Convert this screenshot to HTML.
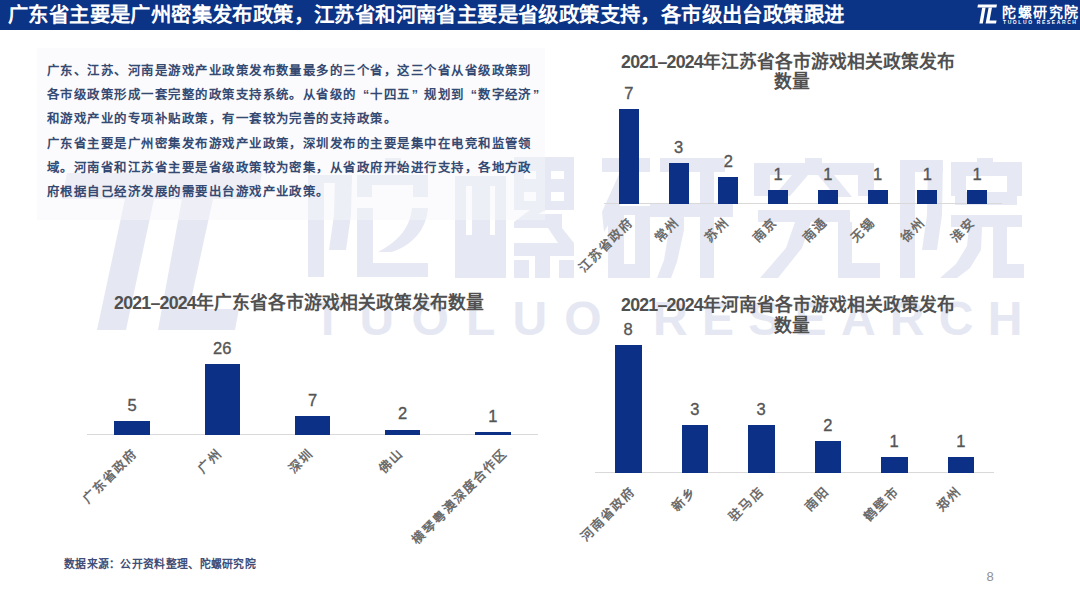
<!DOCTYPE html>
<html lang="zh-CN"><head><meta charset="utf-8">
<style>
*{margin:0;padding:0;box-sizing:border-box}
html,body{width:1080px;height:606px;overflow:hidden;background:#fff;font-family:"Liberation Sans",sans-serif}
.abs{position:absolute}
#hdr{position:absolute;left:0;top:0;width:1080px;height:30px;background:#0b3386}
#ttl{position:absolute;left:8px;top:2px;font-size:20.4px;line-height:26px;font-weight:bold;color:#fff;white-space:nowrap;letter-spacing:0.4px}
#wm{position:absolute;left:0;top:0;width:1080px;height:606px}
.wml{position:absolute;font-size:48px;font-weight:bold;color:#e5e8f2;line-height:1;white-space:nowrap}
#box{position:absolute;left:37px;top:48px;width:508px;height:172px;background:rgba(246,247,251,0.45)}
#para{position:absolute;left:47px;top:59px;font-size:12.4px;line-height:24.2px;color:#354a72;white-space:nowrap;letter-spacing:1.47px;font-weight:bold}
.ct{position:absolute;font-size:17.8px;font-weight:bold;color:#505050;line-height:20.5px;text-align:center;white-space:nowrap}
.dg{letter-spacing:-0.8px}
.bar{position:absolute;background:#0c3085}
.ax{position:absolute;height:1px;background:#d9d9d9}
.vl{position:absolute;font-size:16.5px;color:#555;width:40px;text-align:center;line-height:15px;-webkit-text-stroke:0.35px #555}
.cl{position:absolute;font-size:12.6px;color:#6b6b6b;line-height:14px;font-weight:bold;letter-spacing:1.3px;white-space:nowrap;transform-origin:100% 0;transform:rotate(-45deg);text-align:right}
.qo,.qc{display:inline-block;width:13.47px;letter-spacing:0}.qo{text-align:right;padding-right:1px}.qc{text-align:left;padding-left:1px}
#src{position:absolute;left:64px;top:555px;font-size:10.8px;color:#404e78;white-space:nowrap;letter-spacing:0.3px;font-weight:bold}
#pg{position:absolute;left:986.5px;top:569px;font-size:13px;color:#909090}
</style></head><body>
<!-- watermark -->
<div id="wm">
<svg class="abs" style="left:0;top:0" width="1080" height="606">
<polygon points="67,173 262,173 257,199 62,199" fill="#e5e8f2"/>
<polygon points="125,199 154,199 126,330 97,330" fill="#e5e8f2"/>
<polygon points="182,199 213,199 189,309 239,309 235,330 158,330" fill="#e5e8f2"/>
</svg>
<svg class="abs" style="left:0;top:0" width="1080" height="606"><g fill="#e6e9f3">
<!-- 陀 -->
<rect x="308" y="175" width="16" height="102"/><rect x="308" y="175" width="44" height="8"/>
<polygon points="335,175 352,175 351,215 346,250 329,250 334,215"/>
<rect x="385" y="158" width="16" height="14"/>
<rect x="357" y="175" width="71" height="10"/><rect x="357" y="185" width="15" height="12"/><rect x="413" y="185" width="15" height="12"/>
<rect x="357" y="208" width="16" height="69"/><rect x="357" y="263" width="71" height="14"/>
<path d="M412,208 L428,208 C426,232 410,246 392,252 L378,252 C395,243 410,230 412,208 Z"/>
<!-- 螺 -->
<path fill-rule="evenodd" d="M455,176 H506 V278 H455 Z M466,186 V235 H472 V186 Z M490,186 V235 H495 V186 Z"/>
<path fill-rule="evenodd" d="M514,157 H574 V210 H514 Z M524,171 V179 H536 V171 Z M551,171 V179 H564 V171 Z M524,192 V201 H536 V192 Z M551,192 V201 H564 V192 Z"/>
<polygon points="530,210 546,210 538,214 562,214 562,228 514,228 514,222"/>
<polygon points="548,228 562,228 574,243 558,243"/>
<rect x="514" y="243" width="60" height="13"/><rect x="535" y="256" width="15" height="22"/>
<rect x="514" y="260" width="15" height="18"/><rect x="559" y="260" width="15" height="18"/>
<!-- 研 -->
<rect x="602" y="158" width="48" height="14"/>
<polygon points="620,172 638,172 620,205 604,232 602,212"/>
<path fill-rule="evenodd" d="M608,206 H650 V278 H608 Z M624,215 V264 H635 V215 Z"/>
<rect x="660" y="158" width="65" height="14"/><rect x="650" y="204" width="83" height="13"/>
<polygon points="669,172 684,172 684,230 677,262 671,278 657,278 664,260 669,230"/>
<rect x="700" y="172" width="14" height="106"/>
<!-- 究 -->
<rect x="805" y="158" width="17" height="7"/>
<rect x="754" y="163" width="120" height="12"/><rect x="754" y="175" width="16" height="21"/><rect x="858" y="175" width="16" height="21"/>
<polygon points="792,175 808,175 790,196 774,196"/><polygon points="818,175 834,175 852,197 836,197"/>
<rect x="758" y="210" width="92" height="12"/>
<polygon points="795,222 811,222 802,248 778,278 760,278 786,248"/>
<rect x="838" y="222" width="14" height="44"/><rect x="838" y="263" width="42" height="15"/>
<!-- 院 -->
<rect x="900" y="160" width="15" height="118"/><rect x="900" y="160" width="43" height="12"/>
<polygon points="928,160 943,160 942,215 937,250 922,250 927,215"/>
<rect x="977" y="158" width="16" height="6"/>
<rect x="951" y="162" width="71" height="14"/><rect x="951" y="176" width="15" height="20"/><rect x="1007" y="176" width="15" height="20"/>
<rect x="955" y="192" width="62" height="13"/><rect x="951" y="215" width="71" height="12"/>
<polygon points="969,227 982,227 981,250 970,268 957,278 940,278 956,264 967,246"/>
<rect x="993" y="227" width="14" height="51"/><rect x="993" y="264" width="31" height="14"/>
</g></svg>
<div class="wml" style="left:313px;top:295px;letter-spacing:17.2px">TUOLUO</div>
<div class="wml" style="left:653px;top:295px;letter-spacing:14.3px">RESEARCH</div>
</div>
<div id="box"></div>
<div id="hdr"></div>
<div id="ttl">广东省主要是广州密集发布政策，江苏省和河南省主要是省级政策支持，各市级出台政策跟进</div>
<!-- logo -->
<svg class="abs" style="left:976px;top:4px" width="24" height="20" viewBox="0 0 24 20">
<polygon points="2,0.5 21,0.5 20.4,3.6 1.4,3.6" fill="#fff"/>
<polygon points="6.2,3.6 9.6,3.6 6.8,19.5 3.4,19.5" fill="#fff"/>
<polygon points="12.6,3.6 16,3.6 13.6,16.4 20.6,16.4 20,19.5 9.6,19.5" fill="#fff"/>
</svg>
<div class="abs" style="left:1002px;top:3.5px;font-size:14px;line-height:16px;font-weight:bold;color:#fff;white-space:nowrap;letter-spacing:1.5px">陀螺研究院</div>
<div class="abs" style="left:1003px;top:19.5px;font-size:5px;line-height:5px;font-weight:bold;color:#fff;white-space:nowrap;letter-spacing:1.6px">TUOLUO RESEARCH</div>

<div id="para">广东、江苏、河南是游戏产业政策发布数量最多的三个省，这三个省从省级政策到<br>各市级政策形成一套完整的政策支持系统。从省级的<span class="qo">“</span>十四五<span class="qc">”</span>规划到<span class="qo">“</span>数字经济<span class="qc">”</span><br>和游戏产业的专项补贴政策，有一套较为完善的支持政策。<br>广东省主要是广州密集发布游戏产业政策，深圳发布的主要是集中在电竞和监管领<br>域。河南省和江苏省主要是省级政策较为密集，从省政府开始进行支持，各地方政<br>府根据自己经济发展的需要出台游戏产业政策。</div>

<!-- chart 1: Jiangsu -->
<div class="ct" style="left:588px;top:51.5px;width:400px"><span class="dg">2021–2024</span>年江苏省各市游戏相关政策发布<br><span style="position:relative;left:4px">数量</span></div>
<div class="ax" style="left:604px;top:203px;width:398px"></div>
<div id="c1">
<div class="bar" style="left:618.8px;top:109.0px;width:20.2px;height:95.0px"></div>
<div class="vl" style="left:608.9px;top:85.9px">7</div>
<div class="cl" style="right:453.5px;top:214.8px">江苏省政府</div>
<div class="bar" style="left:668.5px;top:163.3px;width:20.2px;height:40.7px"></div>
<div class="vl" style="left:658.6px;top:140.2px">3</div>
<div class="cl" style="right:407.6px;top:214.8px">常州</div>
<div class="bar" style="left:718.3px;top:176.9px;width:20.2px;height:27.1px"></div>
<div class="vl" style="left:708.4px;top:153.8px">2</div>
<div class="cl" style="right:357.7px;top:214.8px">苏州</div>
<div class="bar" style="left:768.0px;top:190.4px;width:20.2px;height:13.6px"></div>
<div class="vl" style="left:758.1px;top:167.3px">1</div>
<div class="cl" style="right:309.1px;top:214.8px">南京</div>
<div class="bar" style="left:817.8px;top:190.4px;width:20.2px;height:13.6px"></div>
<div class="vl" style="left:807.9px;top:167.3px">1</div>
<div class="cl" style="right:259.5px;top:214.8px">南通</div>
<div class="bar" style="left:867.5px;top:190.4px;width:20.2px;height:13.6px"></div>
<div class="vl" style="left:857.6px;top:167.3px">1</div>
<div class="cl" style="right:211.0px;top:214.8px">无锡</div>
<div class="bar" style="left:917.3px;top:190.4px;width:20.2px;height:13.6px"></div>
<div class="vl" style="left:907.4px;top:167.3px">1</div>
<div class="cl" style="right:161.1px;top:214.8px">徐州</div>
<div class="bar" style="left:967.0px;top:190.4px;width:20.2px;height:13.6px"></div>
<div class="vl" style="left:957.1px;top:167.3px">1</div>
<div class="cl" style="right:111.3px;top:214.8px">淮安</div>
</div>

<!-- chart 2: Guangdong -->
<div class="ct" style="left:99px;top:293px;width:400px"><span class="dg">2021–2024</span>年广东省各市游戏相关政策发布数量</div>
<div class="ax" style="left:87px;top:434px;width:451px"></div>
<div id="c2">
<div class="bar" style="left:114.2px;top:421.3px;width:35.7px;height:13.7px"></div>
<div class="vl" style="left:112.1px;top:398.2px">5</div>
<div class="cl" style="right:949.5px;top:445.8px">广东省政府</div>
<div class="bar" style="left:204.5px;top:363.6px;width:35.7px;height:71.4px"></div>
<div class="vl" style="left:202.3px;top:340.5px">26</div>
<div class="cl" style="right:864.0px;top:445.8px">广州</div>
<div class="bar" style="left:294.6px;top:415.8px;width:35.7px;height:19.2px"></div>
<div class="vl" style="left:292.5px;top:392.7px">7</div>
<div class="cl" style="right:773.8px;top:445.8px">深圳</div>
<div class="bar" style="left:384.8px;top:429.5px;width:35.7px;height:5.5px"></div>
<div class="vl" style="left:382.7px;top:406.4px">2</div>
<div class="cl" style="right:683.5px;top:445.8px">佛山</div>
<div class="bar" style="left:475.1px;top:432.3px;width:35.7px;height:2.7px"></div>
<div class="vl" style="left:472.9px;top:409.2px">1</div>
<div class="cl" style="right:579.5px;top:445.8px">横琴粤澳深度合作区</div>
</div>

<!-- chart 3: Henan -->
<div class="ct" style="left:588px;top:295px;width:400px"><span class="dg">2021–2024</span>年河南省各市游戏相关政策发布<br><span style="position:relative;left:4px">数量</span></div>
<div class="ax" style="left:595px;top:472px;width:399px"></div>
<div id="c3">
<div class="bar" style="left:615.0px;top:345.1px;width:26.6px;height:127.9px"></div>
<div class="vl" style="left:608.2px;top:322.0px">8</div>
<div class="cl" style="right:451.7px;top:484.0px">河南省政府</div>
<div class="bar" style="left:681.5px;top:425.0px;width:26.6px;height:48.0px"></div>
<div class="vl" style="left:674.8px;top:401.9px">3</div>
<div class="cl" style="right:390.0px;top:484.0px">新乡</div>
<div class="bar" style="left:748.0px;top:425.0px;width:26.6px;height:48.0px"></div>
<div class="vl" style="left:741.2px;top:401.9px">3</div>
<div class="cl" style="right:322.8px;top:484.0px">驻马店</div>
<div class="bar" style="left:814.5px;top:441.0px;width:26.6px;height:32.0px"></div>
<div class="vl" style="left:807.8px;top:417.9px">2</div>
<div class="cl" style="right:257.2px;top:484.0px">南阳</div>
<div class="bar" style="left:881.0px;top:457.0px;width:26.6px;height:16.0px"></div>
<div class="vl" style="left:874.2px;top:433.9px">1</div>
<div class="cl" style="right:188.5px;top:484.0px">鹤壁市</div>
<div class="bar" style="left:947.5px;top:457.0px;width:26.6px;height:16.0px"></div>
<div class="vl" style="left:940.8px;top:433.9px">1</div>
<div class="cl" style="right:125.2px;top:484.0px">郑州</div>
</div>

<div id="src">数据来源：公开资料整理、陀螺研究院</div>
<div id="pg">8</div>
</body></html>
